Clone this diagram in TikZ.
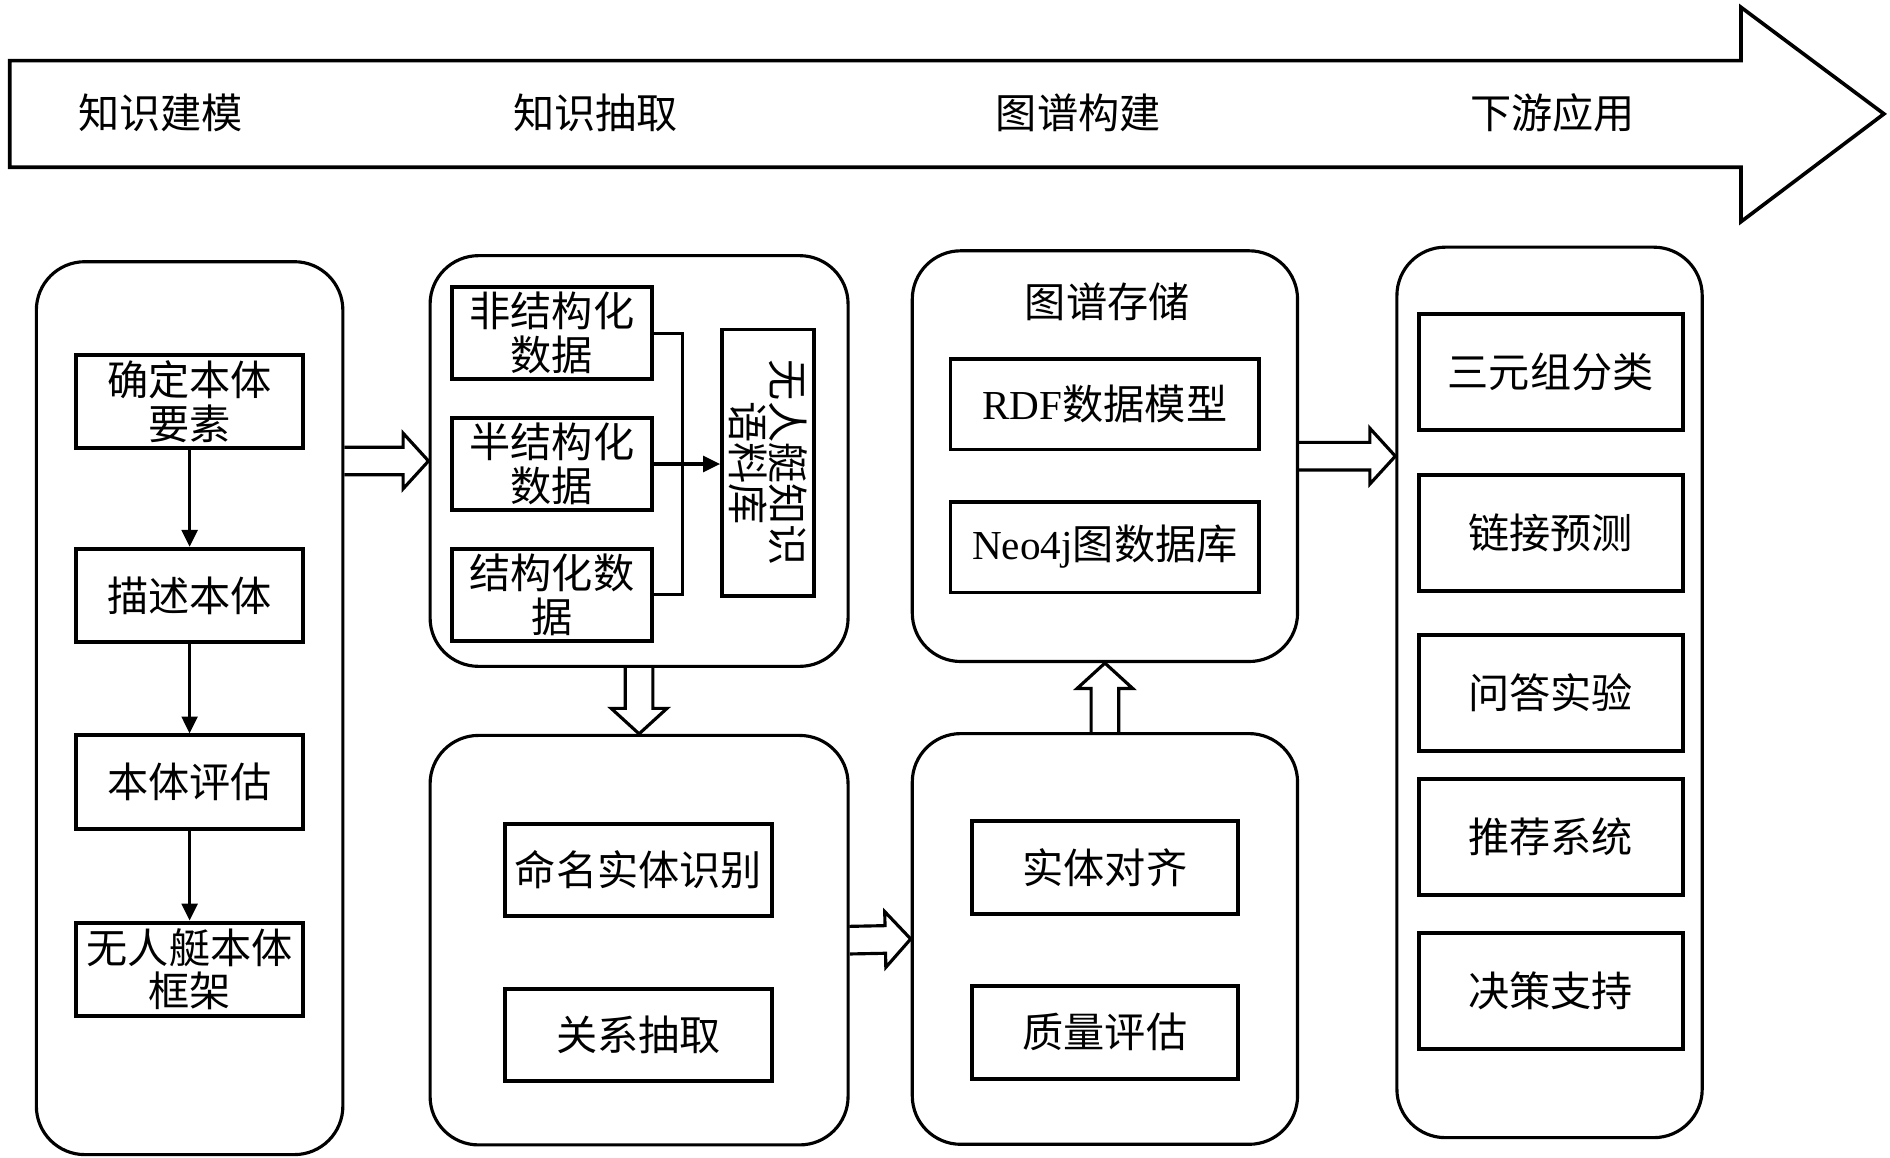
\documentclass[tikz,border=0pt]{standalone}
\usepackage{fontspec}
\setmainfont{Noto Sans CJK SC}
\newfontfamily\lat{Liberation Serif}
\usetikzlibrary{calc,arrows.meta}
\newcommand\hollowarrow[2]{%
  \coordinate (ha-b) at ($(#2)!10.5pt!(#1)$);
  \draw[hollow] ($(#1)!5.7pt!90:(#2)$) -- ($(ha-b)!5.7pt!90:(#2)$) -- ($(ha-b)!11.5pt!90:(#2)$) -- (#2)
    -- ($(ha-b)!11.5pt!-90:(#2)$) -- ($(ha-b)!5.7pt!-90:(#2)$) -- ($(#1)!5.7pt!-90:(#2)$);
}
\tikzset{
  bigbox/.style={draw, line width=1.3pt, rounded corners=20pt, inner sep=0pt},
  box/.style={draw, line width=1.6pt, inner sep=0pt, align=center, font=\fontsize{17pt}{18pt}\selectfont},
  hdr/.style={font=\fontsize{17pt}{18pt}\selectfont, inner sep=0pt},
  conn/.style={line width=1.3pt},
  arr/.style={conn, -{Triangle[length=7pt,width=6.5pt]}},
  hollow/.style={draw, line width=1.3pt, line join=miter},
}
\begin{document}
\begin{tikzpicture}[x=0.5pt,y=-0.5pt]
\useasboundingbox (0,0) rectangle (1560,955);
% top process arrow
\draw[line width=1.5pt, line join=miter] (8,50) -- (1437,50) -- (1437,6) -- (1555,94) -- (1437,183) -- (1437,138) -- (8,138) -- cycle;
\node[hdr] (t1) at (132.5,93) {知识建模};
\node[hdr] (t2) at (491.5,93) {知识抽取};
\node[hdr] (t3) at (890,93) {图谱构建};
\node[hdr] (t4) at (1281.5,93) {下游应用};

% column 1
\node[bigbox, minimum width=126.5pt, minimum height=368.5pt] (c1) at (156.5,584.5) {};
\node[box, minimum width=93.5pt, minimum height=38.5pt] (b1) at (156.5,331.5) {确定本体\\要素};
\node[box, minimum width=93.5pt, minimum height=38.5pt] (b2) at (156.5,491.5) {描述本体};
\node[box, minimum width=93.5pt, minimum height=38.5pt] (b3) at (156.5,645.5) {本体评估};
\node[box, minimum width=93.5pt, minimum height=38.5pt] (b4) at (156.5,800) {无人艇本体\\框架};
\draw[arr] (b1) -- (b2);
\draw[arr] (b2) -- (b3);
\draw[arr] (b3) -- (b4);

% column 2 upper
\node[bigbox, minimum width=172.5pt, minimum height=169.5pt] (c2u) at (527.5,380.5) {};
\node[box, minimum width=82.5pt, minimum height=38pt] (d1) at (455.5,275) {非结构化\\数据};
\node[box, minimum width=82.5pt, minimum height=38pt] (d2) at (455.5,383) {半结构化\\数据};
\node[box, minimum width=82.5pt, minimum height=38pt] (d3) at (455.5,491) {结构化数\\据};
\node[box, minimum width=110pt, minimum height=38pt, rotate=-90, font=\fontsize{17pt}{16.5pt}\selectfont] (corpus) at (634,382) {无人艇知识\\语料库};
\coordinate (j) at (563,383);
\draw[conn] (d1.east) -- (d1.east -| j) -- (d3.east -| j) -- (d3.east);
\draw[arr] (d2.east) -- (corpus.south |- d2.east);

% column 2 lower
\node[bigbox, minimum width=172.5pt, minimum height=169pt] (c2l) at (527.5,776) {};
\node[box, minimum width=110pt, minimum height=38pt] (e1) at (527,718) {命名实体识别};
\node[box, minimum width=110pt, minimum height=38pt] (e2) at (527,854) {关系抽取};

% column 3 upper
\node[bigbox, minimum width=159pt, minimum height=169.5pt] (c3u) at (912,376.5) {};
\node[hdr] (st) at (914,249) {图谱存储};
\node[box, minimum width=127.5pt, minimum height=37.5pt] (f1) at (912,333.5) {{\lat RDF}数据模型};
\node[box, minimum width=127.5pt, minimum height=37.5pt] (f2) at (912,451.5) {{\lat Neo4j}图数据库};

% column 3 lower
\node[bigbox, minimum width=159pt, minimum height=169.5pt] (c3l) at (912,775) {};
\node[box, minimum width=110pt, minimum height=38.5pt] (g1) at (912,716) {实体对齐};
\node[box, minimum width=110pt, minimum height=38.5pt] (g2) at (912,852) {质量评估};

% column 4
\node[bigbox, minimum width=126pt, minimum height=367.5pt] (c4) at (1279,571.5) {};
\node[box, minimum width=109pt, minimum height=48pt] (h1) at (1280,307) {三元组分类};
\node[box, minimum width=109pt, minimum height=48pt] (h2) at (1280,440) {链接预测};
\node[box, minimum width=109pt, minimum height=48pt] (h3) at (1280,572) {问答实验};
\node[box, minimum width=109pt, minimum height=48pt] (h4) at (1280,691) {推荐系统};
\node[box, minimum width=109pt, minimum height=48pt] (h5) at (1280,818) {决策支持};

% hollow arrows between stages
\hollowarrow{c1.east |- c2u.west}{c2u.west}
\hollowarrow{c2u.south}{c2l.north}
\hollowarrow{c2l.east}{c3l.west}
\hollowarrow{c3l.north}{c3u.south}
\hollowarrow{c3u.east}{c4.west |- c3u.east}
\end{tikzpicture}
\end{document}
